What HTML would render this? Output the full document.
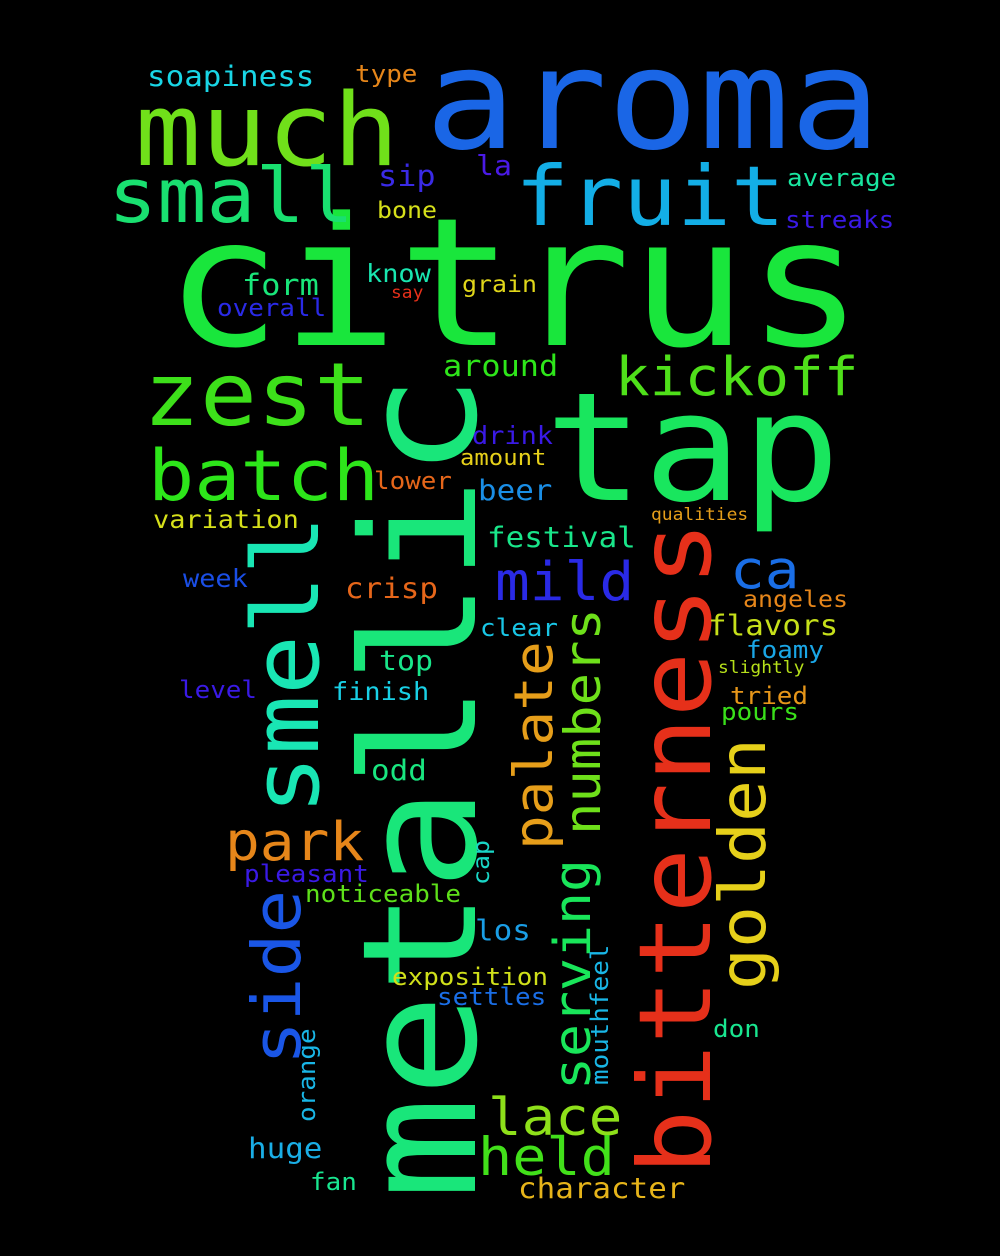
<!DOCTYPE html>
<html><head><meta charset="utf-8"><style>
html,body{margin:0;padding:0;background:#000;}
svg{display:block;}
text{font-family:"DejaVu Sans Mono","Liberation Mono",monospace;}
</style></head><body>
<svg id="cloud" width="1000" height="1256" viewBox="0 0 1000 1256" xmlns="http://www.w3.org/2000/svg">
<rect width="1000" height="1256" fill="#000"/>
</svg>
<script>
// word, x, baseline y, font size, color, vertical
const words=[
["aroma",425,148,152,"#1a66e6",0],
["citrus",165,345,194,"#19e63c",0],
["much",135,165,110,"#70e01a",0],
["fruit",515,225,90,"#13aee6",0],
["small",108,222,82,"#19e070",0],
["zest",143,425,95,"#3de01a",0],
["kickoff",615,395,58,"#4fe01a",0],
["tap",545,500,164,"#19e65e",0],
["batch",148,500,77,"#2de61a",0],
["metallic",475,1200,172,"#19e67a",1],
["smell",318,815,100,"#19e6b4",1],
["bitterness",710,1175,109,"#e6301a",1],
["side",300,1065,73,"#1a56e6",1],
["park",225,860,58,"#e6861a",0],
["golden",765,990,70,"#e6d01a",1],
["palate",552,850,58,"#e69e1a",1],
["numbers",600,835,54,"#6ee01a",1],
["serving",590,1090,55,"#19e65a",1],
["mild",495,600,58,"#2a2ae6",0],
["ca",730,588,58,"#1a6ee6",0],
["lace",488,1135,56,"#8ee01a",0],
["held",478,1175,57,"#42e01a",0],
["character",518,1198,31,"#e6b41a",0],
["soapiness",147,86,31,"#19d6e6",0],
["type",355,82,26,"#e6861a",0],
["average",787,186,26,"#19e6a0",0],
["streaks",785,228,26,"#3a1ae6",0],
["sip",378,186,32,"#3a2ae6",0],
["la",476,175,30,"#4a1ae6",0],
["bone",377,218,25,"#d6e01a",0],
["form",242,295,32,"#19e67a",0],
["know",366,282,27,"#19e6b0",0],
["grain",462,292,25,"#e0d61a",0],
["overall",217,316,26,"#2a2ae6",0],
["say",391,298,18,"#e6301a",0],
["around",443,376,32,"#2ee61a",0],
["drink",472,444,27,"#3a1ae6",0],
["amount",460,465,24,"#e6d01a",0],
["lower",374,489,26,"#e6661a",0],
["beer",478,500,31,"#1a8ee6",0],
["variation",153,528,27,"#d6e01a",0],
["qualities",651,520,18,"#e69e1a",0],
["festival",487,547,31,"#19e68a",0],
["week",183,587,27,"#1a4ee6",0],
["crisp",345,598,31,"#e6661a",0],
["angeles",743,607,25,"#e6861a",0],
["flavors",708,635,31,"#c6e01a",0],
["clear",480,636,26,"#19c6e6",0],
["foamy",746,658,26,"#1aa6e6",0],
["top",379,670,30,"#19e68a",0],
["slightly",718,673,18,"#b6e01a",0],
["level",179,698,26,"#3a1ae6",0],
["finish",332,700,27,"#19d0e6",0],
["tried",730,704,26,"#e6961a",0],
["pours",721,720,26,"#3ae01a",0],
["odd",371,780,31,"#19e680",0],
["pleasant",244,882,26,"#3a1ae6",0],
["noticeable",305,902,26,"#5ee01a",0],
["cap",489,885,25,"#19d6c6",1],
["los",475,940,31,"#1a9ee6",0],
["exposition",392,985,26,"#d0e01a",0],
["settles",437,1005,26,"#1a6ee6",0],
["mouthfeel",608,1085,26,"#19b6e6",1],
["don",713,1037,26,"#19e690",0],
["orange",315,1122,26,"#19b6e6",1],
["huge",248,1158,31,"#1aaee6",0],
["fan",310,1190,26,"#19e690",0]
];
const svg=document.getElementById('cloud');
const NS="http://www.w3.org/2000/svg";
words.forEach(w=>{
  const t=document.createElementNS(NS,'text');
  t.textContent=w[0];
  t.setAttribute('font-size',(w[3]*0.92).toFixed(1));
  t.setAttribute('fill',w[4]);
  t.setAttribute('textLength',(w[3]*0.6*w[0].length).toFixed(1));
  t.setAttribute('lengthAdjust','spacingAndGlyphs');
  if(w[5]){t.setAttribute('transform','translate('+w[1]+','+w[2]+') rotate(-90)');}
  else{t.setAttribute('x',w[1]);t.setAttribute('y',w[2]);}
  
  
  svg.appendChild(t);
});
</script>
</body></html>
